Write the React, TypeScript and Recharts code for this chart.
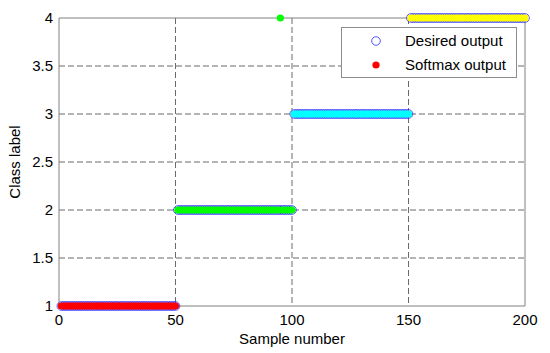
import React from 'react';
import { ScatterChart, Scatter, XAxis, YAxis, CartesianGrid, ReferenceLine, Legend } from 'recharts';

const classLabels = [1, 2, 3, 4];
const samplesPerClass = 50;
const softmaxColors = ['#ff0000', '#00ff00', '#00ffff', '#ffff00'];
const misclassified = [{ sample: 95, predicted: 4 }];
const xTicks = [0, 50, 100, 150, 200];
const yTicks = [1, 1.5, 2, 2.5, 3, 3.5, 4];

const desiredData: { x: number; y: number }[] = [];
const softmaxData: { x: number; y: number }[][] = classLabels.map(() => []);
classLabels.forEach((label, c) => {
  for (let i = 1; i <= samplesPerClass; i++) {
    const sample = c * samplesPerClass + i;
    desiredData.push({ x: sample, y: label });
    const miss = misclassified.find((m) => m.sample === sample);
    softmaxData[c].push({ x: sample, y: miss ? miss.predicted : label });
  }
});

const FONT = 'Arial, "Liberation Sans", sans-serif';

const HollowCircle = (p: any) => (
  <circle cx={p.cx} cy={p.cy} r={4.3} fill="none" stroke="#2a2aff" strokeWidth={0.8} />
);
const makeDot = (color: string) => (p: any) => (
  <circle cx={p.cx} cy={p.cy} r={3.6} fill={color} stroke="none" />
);

const renderLegend = () => (
  <div
    style={{
      width: 176,
      height: 51,
      boxSizing: 'border-box',
      border: '1px solid #8c8c8c',
      background: '#fff',
      position: 'relative',
      fontFamily: FONT,
      fontSize: 15,
      color: '#000',
    }}
  >
    <svg width={176} height={51} style={{ position: 'absolute', left: 0, top: 0 }}>
      <circle cx={34} cy={13} r={4.3} fill="none" stroke="#2a2aff" strokeWidth={0.8} />
      <circle cx={34} cy={37} r={3.6} fill="#ff0000" />
      <text x={63} y={18} fontFamily={FONT} fontSize={15} fill="#000">Desired output</text>
      <text x={63} y={42} fontFamily={FONT} fontSize={15} fill="#000">Softmax output</text>
    </svg>
  </div>
);

export default function App() {
  return (
    <div style={{ position: 'absolute', left: 0, top: 0, width: 550, height: 353, background: '#fff' }}>
      <ScatterChart width={550} height={353} margin={{ top: 18, right: 25, left: 19, bottom: 17 }}>
        <CartesianGrid stroke="#6a6a6a" strokeDasharray="6 3" verticalValues={[50, 100, 150]} horizontalValues={[1.5, 2, 2.5, 3, 3.5]} />
        <XAxis
          type="number"
          dataKey="x"
          domain={[0, 200]}
          ticks={xTicks}
          interval={0}
          height={30}
          tickLine={false}
          axisLine={{ stroke: '#808080' }}
          tick={{ fill: '#000', fontSize: 15, fontFamily: FONT }}
          label={{ value: 'Sample number', position: 'bottom', offset: -3, fill: '#000', fontSize: 15, fontFamily: FONT }}
        />
        <YAxis
          type="number"
          dataKey="y"
          domain={[1, 4]}
          ticks={yTicks}
          interval={0}
          width={40}
          tickLine={false}
          tickSize={4}
          axisLine={{ stroke: '#808080' }}
          tick={{ fill: '#000', fontSize: 15, fontFamily: FONT }}
          label={{ value: 'Class label', angle: -90, position: 'insideLeft', offset: -4, fill: '#000', fontSize: 15, fontFamily: FONT, style: { textAnchor: 'middle' } }}
        />
        <ReferenceLine y={4} stroke="#808080" />
        <ReferenceLine x={200} stroke="#808080" />
        <Scatter name="Desired output" data={desiredData} shape={HollowCircle} isAnimationActive={false} />
        {softmaxData.map((d, i) => (
          <Scatter key={i} name={`Softmax ${i + 1}`} data={d} shape={makeDot(softmaxColors[i])} isAnimationActive={false} />
        ))}
        <Legend
          layout="horizontal"
          verticalAlign="middle"
          align="center"
          content={renderLegend}
          wrapperStyle={{ position: 'absolute', left: 341, top: 27, width: 176, height: 51 }}
        />
      </ScatterChart>
    </div>
  );
}
